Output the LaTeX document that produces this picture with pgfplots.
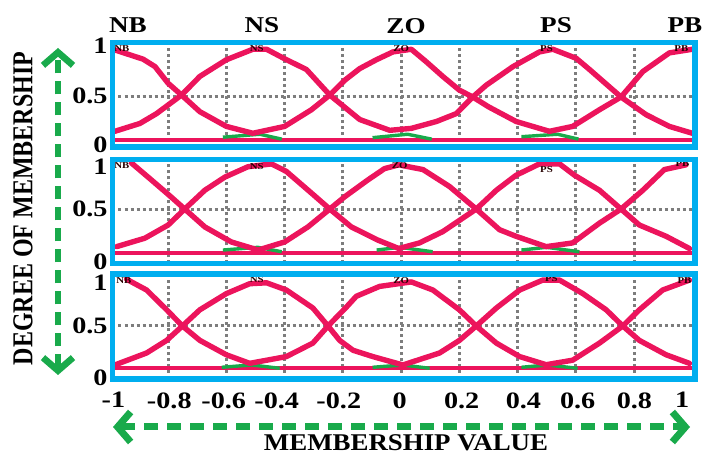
\documentclass[border=0pt]{standalone}
\usepackage{fontspec}
\usepackage{graphicx}
\usepackage{pgfplots}
\pgfplotsset{compat=1.18}
\usetikzlibrary{arrows.meta}
\newfontfamily\lbl{Liberation Serif}[FakeStretch=1.2]
\newfontfamily\lblp{Liberation Serif}
\definecolor{fb}{RGB}{0,174,239}
\definecolor{pk}{RGB}{236,20,92}
\definecolor{gr}{RGB}{25,170,75}
\definecolor{gd}{RGB}{125,125,125}
\tikzset{
  small/.style={font=\lbl\bfseries\fontsize{4.5}{5}\selectfont, text=black!85!red, inner sep=0pt},
}
\pgfplotsset{
  panel/.style={
    scale only axis, width=291.25pt,
    xmin=-0.991, xmax=1.009,
    clip=false,
    axis line style={draw=none},
    major tick length=0pt, tick style={draw=none},
    ticklabel style={font=\lbl\bfseries\fontsize{11.75}{12}\selectfont, inner sep=0pt},
    yticklabel style={xshift=-2.25pt},
    xticklabel style={yshift=-6.5pt},
    yticklabels={0,0.5,1},
    xtick=\empty,
    grid style={gd, line width=1.5pt, dash pattern=on 1.5pt off 1.5pt},
    extra x ticks={-0.8,-0.6,-0.4,-0.2,0,0.2,0.4,0.6,0.8},
    extra x tick labels={},
    extra x tick style={grid=major},
    extra y ticks={0.5},
    extra y tick labels={},
    extra y tick style={grid=major},
  },
  curve/.style={pk, line width=2.7pt, line join=round, line cap=round},
  base/.style={pk, line width=1.6pt},
  grn/.style={gr, line width=1.7pt, line join=round},
}
\begin{document}
\begin{tikzpicture}
\useasboundingbox (0,0) rectangle (351pt,227pt);

% ---------- Panel 1 ----------
\begin{axis}[panel, at={(56.25pt,153.5pt)}, anchor=south west, height=52.25pt,
  ymin=-0.02, ymax=1.046, ytick={0,0.5,1.01}]
\addplot[base] coordinates {(-0.991,0.051) (1.009,0.051)};
\addplot[grn] coordinates {(-0.612,0.08) (-0.485,0.11) (-0.41,0.06)};
\addplot[grn] coordinates {(-0.098,0.075) (0.022,0.11) (0.105,0.06)};
\addplot[grn] coordinates {(0.413,0.085) (0.537,0.11) (0.609,0.06)};
\addplot[curve] coordinates {(-0.983,0.97) (-0.886,0.876) (-0.845,0.80) (-0.80,0.63) (-0.754,0.51) (-0.691,0.34) (-0.60,0.19) (-0.509,0.12) (-0.40,0.19) (-0.308,0.36) (-0.245,0.51) (-0.194,0.66) (-0.142,0.78) (-0.085,0.87) (-0.028,0.95) (0.035,0.977) (0.086,0.85) (0.143,0.70) (0.20,0.56) (0.246,0.49) (0.30,0.39) (0.395,0.24) (0.509,0.14) (0.589,0.19) (0.681,0.36) (0.755,0.49) (0.83,0.75) (0.921,0.94) (1.0,0.977)};
\addplot[curve] coordinates {(-0.983,0.14) (-0.897,0.22) (-0.84,0.32) (-0.754,0.51) (-0.691,0.70) (-0.60,0.87) (-0.509,0.977) (-0.462,0.977) (-0.40,0.88) (-0.325,0.77) (-0.245,0.51) (-0.142,0.26) (-0.039,0.15) (0.035,0.17) (0.121,0.24) (0.189,0.32) (0.246,0.49) (0.292,0.61) (0.384,0.80) (0.475,0.95) (0.521,0.977) (0.601,0.885) (0.647,0.77) (0.755,0.49) (0.841,0.31) (0.921,0.19) (1.0,0.12)};
\node[small] at (axis cs:-0.959,0.985) {NB};
\node[small] at (axis cs:-0.496,0.985) {NS};
\node[small] at (axis cs:0,0.985) {ZO};
\node[small] at (axis cs:0.499,0.985) {PS};
\node[small] at (axis cs:0.962,0.985) {PB};
\draw[fb, line width=2.75pt] (rel axis cs:0,0) rectangle (rel axis cs:1,1);
\end{axis}

% ---------- Panel 2 ----------
\begin{axis}[panel, at={(56.25pt,95.25pt)}, anchor=south west, height=52pt,
  ymin=-0.069, ymax=1.037, ytick={-0.05,0.51,0.96}]
\addplot[base] coordinates {(-0.991,0.043) (1.009,0.043)};
\addplot[grn] coordinates {(-0.612,0.074) (-0.492,0.103) (-0.41,0.056)};
\addplot[grn] coordinates {(-0.084,0.074) (-0.005,0.103) (0.108,0.056)};
\addplot[grn] coordinates {(0.413,0.074) (0.499,0.103) (0.612,0.056)};
\addplot[curve] coordinates {(-0.926,1.0) (-0.869,0.85) (-0.805,0.68) (-0.743,0.51) (-0.674,0.32) (-0.583,0.16) (-0.491,0.074) (-0.40,0.16) (-0.32,0.32) (-0.245,0.51) (-0.194,0.64) (-0.114,0.82) (-0.057,0.94) (-0.008,0.98) (0.075,0.93) (0.166,0.75) (0.258,0.51) (0.338,0.29) (0.395,0.22) (0.498,0.11) (0.589,0.15) (0.681,0.36) (0.755,0.51) (0.83,0.71) (0.904,0.93) (0.978,0.98)};
\addplot[curve] coordinates {(-0.977,0.11) (-0.88,0.20) (-0.80,0.34) (-0.743,0.51) (-0.674,0.71) (-0.605,0.85) (-0.526,0.96) (-0.445,0.99) (-0.394,0.91) (-0.308,0.68) (-0.245,0.51) (-0.171,0.32) (-0.08,0.18) (-0.008,0.09) (0.063,0.15) (0.143,0.27) (0.258,0.51) (0.327,0.71) (0.395,0.87) (0.475,0.99) (0.544,0.99) (0.595,0.87) (0.681,0.71) (0.755,0.51) (0.818,0.34) (0.91,0.22) (0.99,0.09)};
\node[small] at (axis cs:-0.959,0.968) {NB};
\node[small] at (axis cs:-0.496,0.957) {NS};
\node[small] at (axis cs:-0.005,0.968) {ZO};
\node[small] at (axis cs:0.499,0.925) {PS};
\node[small] at (axis cs:0.966,0.99) {PB};
\draw[fb, line width=2.75pt] (rel axis cs:0,0) rectangle (rel axis cs:1,1);
\end{axis}

% ---------- Panel 3 ----------
\begin{axis}[panel, at={(56.25pt,37.5pt)}, anchor=south west, height=52.5pt,
  ymin=-0.089, ymax=1.078, ytick={-0.078,0.5,0.98},
  xtick={-0.988,-0.796,-0.609,-0.427,-0.214,-0.005,0.208,0.42,0.606,0.801,0.965},
  xticklabels={-1,-0.8,-0.6,-0.4,-0.2,0,0.2,0.4,0.6,0.8,1}]
\addplot[base] coordinates {(-0.991,0.033) (1.009,0.033)};
\addplot[grn] coordinates {(-0.616,0.041) (-0.513,0.067) (-0.417,0.03)};
\addplot[grn] coordinates {(-0.098,0.041) (0.005,0.067) (0.098,0.03)};
\addplot[grn] coordinates {(0.413,0.041) (0.503,0.067) (0.606,0.03)};
\addplot[curve] coordinates {(-0.943,1.02) (-0.874,0.90) (-0.805,0.68) (-0.751,0.50) (-0.691,0.34) (-0.60,0.18) (-0.52,0.085) (-0.394,0.16) (-0.303,0.31) (-0.251,0.50) (-0.188,0.71) (-0.154,0.83) (-0.074,0.94) (0.035,0.99) (0.109,0.90) (0.20,0.68) (0.258,0.50) (0.327,0.31) (0.407,0.16) (0.498,0.07) (0.589,0.12) (0.681,0.31) (0.761,0.50) (0.818,0.68) (0.898,0.90) (0.99,1.01)};
\addplot[curve] coordinates {(-0.983,0.067) (-0.874,0.20) (-0.805,0.34) (-0.751,0.50) (-0.691,0.68) (-0.60,0.86) (-0.52,0.97) (-0.462,0.98) (-0.394,0.90) (-0.303,0.70) (-0.251,0.50) (-0.211,0.34) (-0.165,0.23) (-0.097,0.16) (0.006,0.067) (0.132,0.20) (0.20,0.34) (0.258,0.50) (0.327,0.70) (0.407,0.90) (0.486,1.01) (0.544,1.01) (0.624,0.86) (0.704,0.68) (0.761,0.50) (0.818,0.34) (0.91,0.18) (0.99,0.085)};
\node[small] at (axis cs:-0.952,1.01) {NB};
\node[small] at (axis cs:-0.496,1.02) {NS};
\node[small] at (axis cs:0,1.01) {ZO};
\node[small] at (axis cs:0.516,1.03) {PS};
\node[small] at (axis cs:0.973,1.01) {PB};
\draw[fb, line width=2.75pt] (rel axis cs:0,0) rectangle (rel axis cs:1,1);
\end{axis}

% ---------- Top labels ----------
\begin{scope}[every node/.style={anchor=base, font=\lbl\bfseries\fontsize{11.3}{12}\selectfont, inner sep=0pt}]
\node at (64pt,210.8pt) {NB};
\node at (131pt,210.8pt) {NS};
\node at (203pt,210.3pt) {ZO};
\node at (278pt,210.5pt) {PS};
\node at (342.5pt,210.5pt) {PB};
\end{scope}

% ---------- Axis descriptions and arrows ----------
\node[rotate=90, font=\lblp\bfseries\fontsize{12}{12}\selectfont, inner sep=0pt] at (11.5pt,122.75pt) {\scalebox{1}[1.2]{DEGREE OF MEMBERSHIP}};
\node[anchor=base, font=\lblp\bfseries\fontsize{12}{12}\selectfont, inner sep=0pt] at (203pt,1.5pt) {\scalebox{1.12}[1]{MEMBERSHIP VALUE}};
\draw[gr, line width=3.3pt, dash pattern=on 6.5pt off 4pt,
  {Straight Barb[length=6.5pt,width=15pt]}-{Straight Barb[length=6.5pt,width=15pt]}] (29pt,39.5pt) -- (29pt,203pt);
\draw[gr, line width=3.5pt, dash pattern=on 7pt off 4.5pt,
  {Straight Barb[length=6.5pt,width=15pt]}-{Straight Barb[length=6.5pt,width=15pt]}] (56.5pt,13.5pt) -- (345pt,13.5pt);
\end{tikzpicture}
\end{document}
